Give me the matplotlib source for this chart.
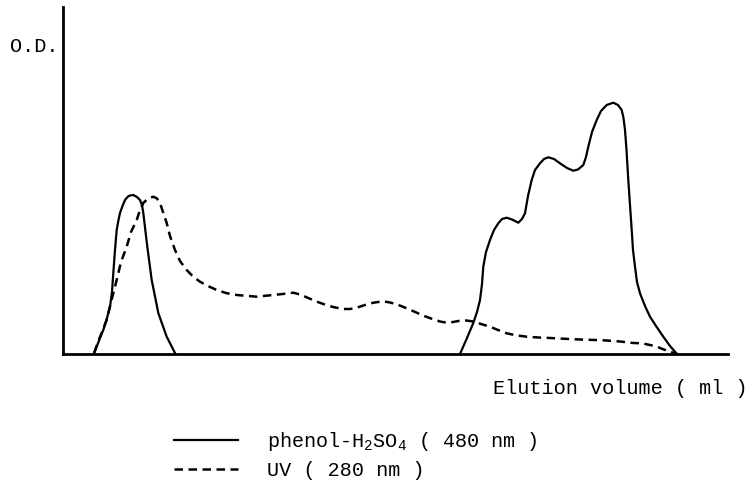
import matplotlib
matplotlib.use("Agg")
import matplotlib.pyplot as plt

plt.rcParams['font.family'] = ['Liberation Mono', 'DejaVu Sans Mono']
plt.rcParams['mathtext.fontset'] = 'custom'
plt.rcParams['mathtext.rm'] = 'Liberation Mono'
plt.rcParams['mathtext.it'] = 'Liberation Mono'

W, H = 752, 483
BASE = 354.0
X0 = 63.0

# Curves (x: elution volume, y: O.D., arbitrary units)
phenol_peak1_x = [31.3, 37, 40.3, 44, 47, 49, 50.3, 52, 53.7, 55.5, 57, 59.5, 62, 65, 67, 70.3, 74, 77,
                  79, 80.3, 82.3, 84.3, 88.7, 95.3, 103.7, 112]
phenol_peak1_y = [1, 16, 24, 36, 47.3, 62, 81, 104, 124, 134, 141, 148, 154, 157.5, 158.5, 159, 157, 154,
                  149, 141, 124, 107.3, 74, 41, 17.3, 1]

phenol_peak2_x = [397, 404, 410.3, 414, 417, 419, 420.3, 423, 427, 431, 435.3, 439, 443.7, 449, 455.3, 459, 462,
                  465, 468.7, 472, 477, 481, 485.3, 491, 497, 504, 510.3, 515, 520.3, 523, 525.3, 529,
                  533.7, 538, 543.7, 550.3, 555, 558.7, 560.5, 562, 563.5, 565.3, 567, 568.7, 570, 572,
                  574, 577, 582, 587, 593, 600.3, 607, 614]
phenol_peak2_y = [0, 16, 31, 42, 54, 70, 87.3, 102, 114, 124, 130.7, 135, 136.3, 134.5, 131.3, 135, 140.7,
                  158, 174, 184, 190.7, 195, 196.7, 195, 190.7, 186, 183.3, 184.5, 189, 197, 207.3, 222,
                  234, 243, 249, 251.3, 249, 244, 236, 224, 204, 174, 149, 124, 104, 87.3,
                  72, 60.7, 48, 37.3, 28, 17.3, 8, 0]

uv_x = [31, 37, 43.7, 48, 53.7, 58, 63.7, 68, 73.7, 77, 80.3, 85, 90.3, 94, 97, 100, 103.7, 107, 112, 117,
        123.7, 130, 137, 145, 153.7, 163, 173.7, 193.7, 200.3, 217, 230.3, 237, 243.7, 252, 260.3, 270,
        280.3, 287, 293.7, 302, 310.3, 320.3, 327, 333.7, 343, 353.7, 362, 370.3, 377, 383.7, 390, 397,
        403, 410.3, 418, 427, 435, 443.7, 453, 463.7, 477, 487, 502, 517, 532, 543.7, 557, 570.3, 579,
        587, 594, 600.3, 607, 614]
uv_y = [1, 17, 34, 52, 74, 92, 107.3, 122, 134, 144, 151, 155.5, 157.3, 155.5, 151, 142, 131, 118, 104, 93,
        84, 77.5, 72.3, 68, 64, 61, 59, 57.3, 58, 59.7, 61.3, 59.5, 56.7, 53, 50, 47, 45, 45, 46.3, 49,
        51.3, 52.7, 51.5, 49.7, 46, 41.3, 37.7, 34.7, 32.5, 31.3, 32, 33.3, 33.5, 32.5, 30, 27.3, 24,
        20.7, 18.7, 17.3, 16.4, 16, 15.2, 14.5, 14, 13.5, 12.5, 11, 10.7, 9, 7.3, 4.7, 2.3, 0]

fig = plt.figure(figsize=(W / 100, H / 100), dpi=100)
ax = fig.add_axes([X0 / W, (H - BASE) / H, (728 - X0) / W, (BASE - 7) / H])
ax.set_xlim(0, 728 - X0)
ax.set_ylim(0, BASE - 7)

l1, = ax.plot(phenol_peak1_x, phenol_peak1_y, color='black', lw=1.6, solid_joinstyle='round',
              label='phenol-H$_2$SO$_4$ ( 480 nm )', clip_on=False)
ax.plot(phenol_peak2_x, phenol_peak2_y, color='black', lw=1.6, solid_joinstyle='round', clip_on=False)
l2, = ax.plot(uv_x, uv_y, color='black', lw=1.8, linestyle=(0, (3.4, 2.2)),
              label='UV ( 280 nm )', clip_on=False)

for s in ['top', 'right']:
    ax.spines[s].set_visible(False)
for s in ['left', 'bottom']:
    ax.spines[s].set_linewidth(2.0)
ax.set_xticks([])
ax.set_yticks([])

fig.text(10 / W, 1 - 46 / H, 'O.D.', fontsize=14.5, ha='left', va='center')
fig.text(493 / W, 1 - 388 / H, 'Elution volume ( ml )', fontsize=14.6, ha='left', va='center')

fig.legend(handles=[l1, l2], loc='upper left', bbox_to_anchor=(174 / W, 1 - 430 / H),
           frameon=False, fontsize=14.5, handlelength=3.2, handletextpad=1.4,
           labelspacing=0.42, borderpad=0, borderaxespad=0)

fig.savefig('out.png', dpi=100)
